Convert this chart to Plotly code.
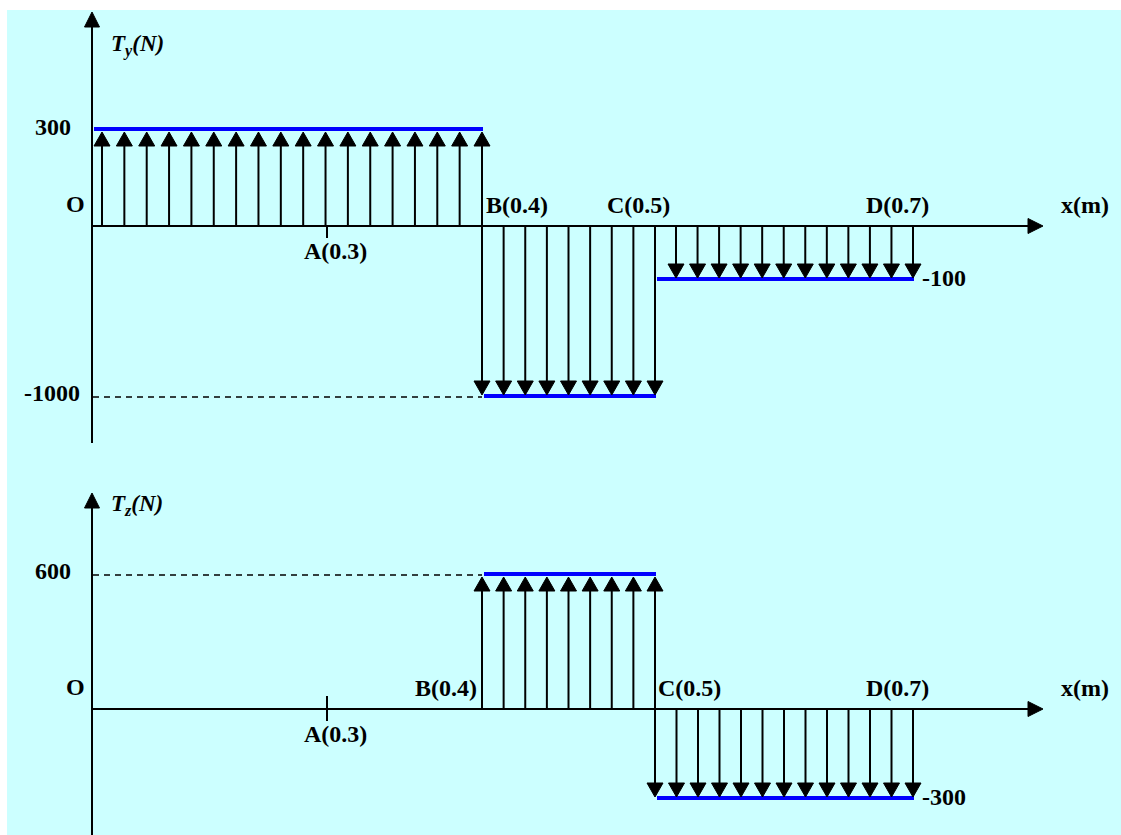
"""
Shear force diagrams Ty and Tz along the shaft (schematic, not to scale).
"""

import numpy as np
import plotly.graph_objects as go

# stations along the shaft and their coordinate in metres
stations = ["O", "A", "B", "C", "D"]
station_x = [0.0, 0.3, 0.4, 0.5, 0.7]

# load segments and the shear force on each one (N)
seg_start = ["O", "B", "C"]
seg_end = ["B", "C", "D"]
ty_values = [300, -1000, -100]
tz_values = [0, 600, -300]

# schematic drawing positions (the source figure is not drawn to scale)
station_pos = {"O": 92, "A": 327, "B": 482, "C": 655, "D": 913}
ty_levels = {0: 226, 300: 129, -1000: 396, -100: 279}
tz_levels = {0: 709, 600: 574, -300: 798}
ty_arrows = [18, 9, 12]
tz_arrows = [0, 9, 13]

BG = "#CCFFFF"
BLUE = "#0000FF"
FONT = "Liberation Serif"
W, H = 1121, 835

fig = go.Figure()
annotations = []


def label(x, y, text, size=24, italic=False):
    t = f"<b>{text}</b>"
    if italic:
        t = f"<b><i>{text}</i></b>"
    annotations.append(dict(x=x, y=y, text=t, showarrow=False,
                            xref="x", yref="y",
                            font=dict(family=FONT, size=size, color="black")))


def head_path(x, tip, up, w=8, h=14):
    base = tip + h if up else tip - h
    return [x - w, x + w, x, x - w, None], [base, base, tip, base, None]


def draw_panel(values, levels, counts, name):
    zero = levels[0]
    ax_x = station_pos["O"]
    top = min(levels.values()) - 117 if name == "y" else min(levels.values()) - 81
    bottom = max(levels.values()) + 47 if name == "y" else H + 5

    # axes
    fig.add_trace(go.Scatter(x=[ax_x, ax_x, None, ax_x, 1028],
                             y=[bottom, top + 14, None, zero, zero],
                             mode="lines", line=dict(color="black", width=2),
                             hoverinfo="skip"))
    hx = [ax_x - 7.5, ax_x + 7.5, ax_x, ax_x - 7.5, None,
          1028, 1028, 1043, 1028]
    hy = [top + 15, top + 15, top, top + 15, None,
          zero - 7.5, zero + 7.5, zero, zero - 7.5]
    fig.add_trace(go.Scatter(x=hx, y=hy, mode="lines", fill="toself",
                             fillcolor="black", line=dict(color="black", width=1),
                             hoverinfo="skip"))

    # A tick
    a = station_pos["A"]
    fig.add_trace(go.Scatter(x=[a, a], y=[zero - (13 if name == "z" else 0), zero + 12],
                             mode="lines", line=dict(color="black", width=2),
                             hoverinfo="skip"))

    sx, sy, hx, hy = [], [], [], []
    for i, v in enumerate(values):
        x0 = station_pos[seg_start[i]]
        x1 = station_pos[seg_end[i]]
        if v == 0:
            continue
        lev = levels[v]
        up = v > 0
        n = counts[i]
        first = x0 + 10 if seg_start[i] == "O" else x0
        if name == "y" and seg_start[i] == "C":
            first = x0 + 21
        tip = lev + (3 if up else -1)
        for xa in np.linspace(first, x1, n):
            sx += [xa, xa, None]
            sy += [zero, tip + (8 if up else -8), None]
            px, py = head_path(xa, tip, up)
            hx += px
            hy += py
        # magnitude level line
        fig.add_trace(go.Scatter(x=[x0 + 2, x1 + 1], y=[lev, lev], mode="lines",
                                 line=dict(color=BLUE, width=4), hoverinfo="skip"))
        # dashed guide to the axis for the large levels
        if abs(v) >= 600:
            fig.add_trace(go.Scatter(x=[ax_x + 1, x0], y=[lev + 1, lev + 1], mode="lines",
                                     line=dict(color="black", width=1.5, dash="6px,5px"),
                                     hoverinfo="skip"))
            label(ax_x - 40 if v < 0 else 53, lev - 3, str(v))
        elif v == 300:
            label(53, lev - 2, str(v))
        else:
            label(x1 + 31, lev - 1, str(v))
    fig.add_trace(go.Scatter(x=sx, y=sy, mode="lines",
                             line=dict(color="black", width=2), hoverinfo="skip"))
    fig.add_trace(go.Scatter(x=hx, y=hy, mode="lines", fill="toself",
                             fillcolor="black", line=dict(color="black", width=1),
                             hoverinfo="skip"))

    # axis and station labels
    label(137, top + 33 if name == "y" else top + 12,
          f"T<sub>{name}</sub>(N)", size=23, italic=True)
    label(75, zero - 22, "O")
    label(1085, zero - 21, "x(m)")
    for s, xm in zip(stations, station_x):
        if s == "O":
            continue
        txt = f"{s}({xm})"
        p = station_pos[s]
        if s == "A":
            label(p + 8, zero + 25, txt)
        elif s == "B":
            label(p + 35 if name == "y" else p - 36, zero - 21, txt)
        elif s == "C":
            label(p - 17 if name == "y" else p + 34, zero - 21, txt)
        else:
            label(p - 16, zero - 21, txt)


draw_panel(ty_values, ty_levels, ty_arrows, "y")
draw_panel(tz_values, tz_levels, tz_arrows, "z")

fig.update_layout(
    width=W, height=H,
    margin=dict(l=0, r=0, t=0, b=0),
    paper_bgcolor="white",
    plot_bgcolor="white",
    showlegend=False,
    xaxis=dict(range=[0, W], visible=False, fixedrange=True),
    yaxis=dict(range=[H, 0], visible=False, fixedrange=True),
    shapes=[dict(type="rect", xref="x", yref="y", x0=7, x1=W + 2, y0=10, y1=H + 2,
                 fillcolor=BG, line=dict(width=0), layer="below")],
    annotations=annotations,
)

fig.write_html("out.html", config={"displayModeBar": False},
               post_script="document.body.style.margin='0';")
